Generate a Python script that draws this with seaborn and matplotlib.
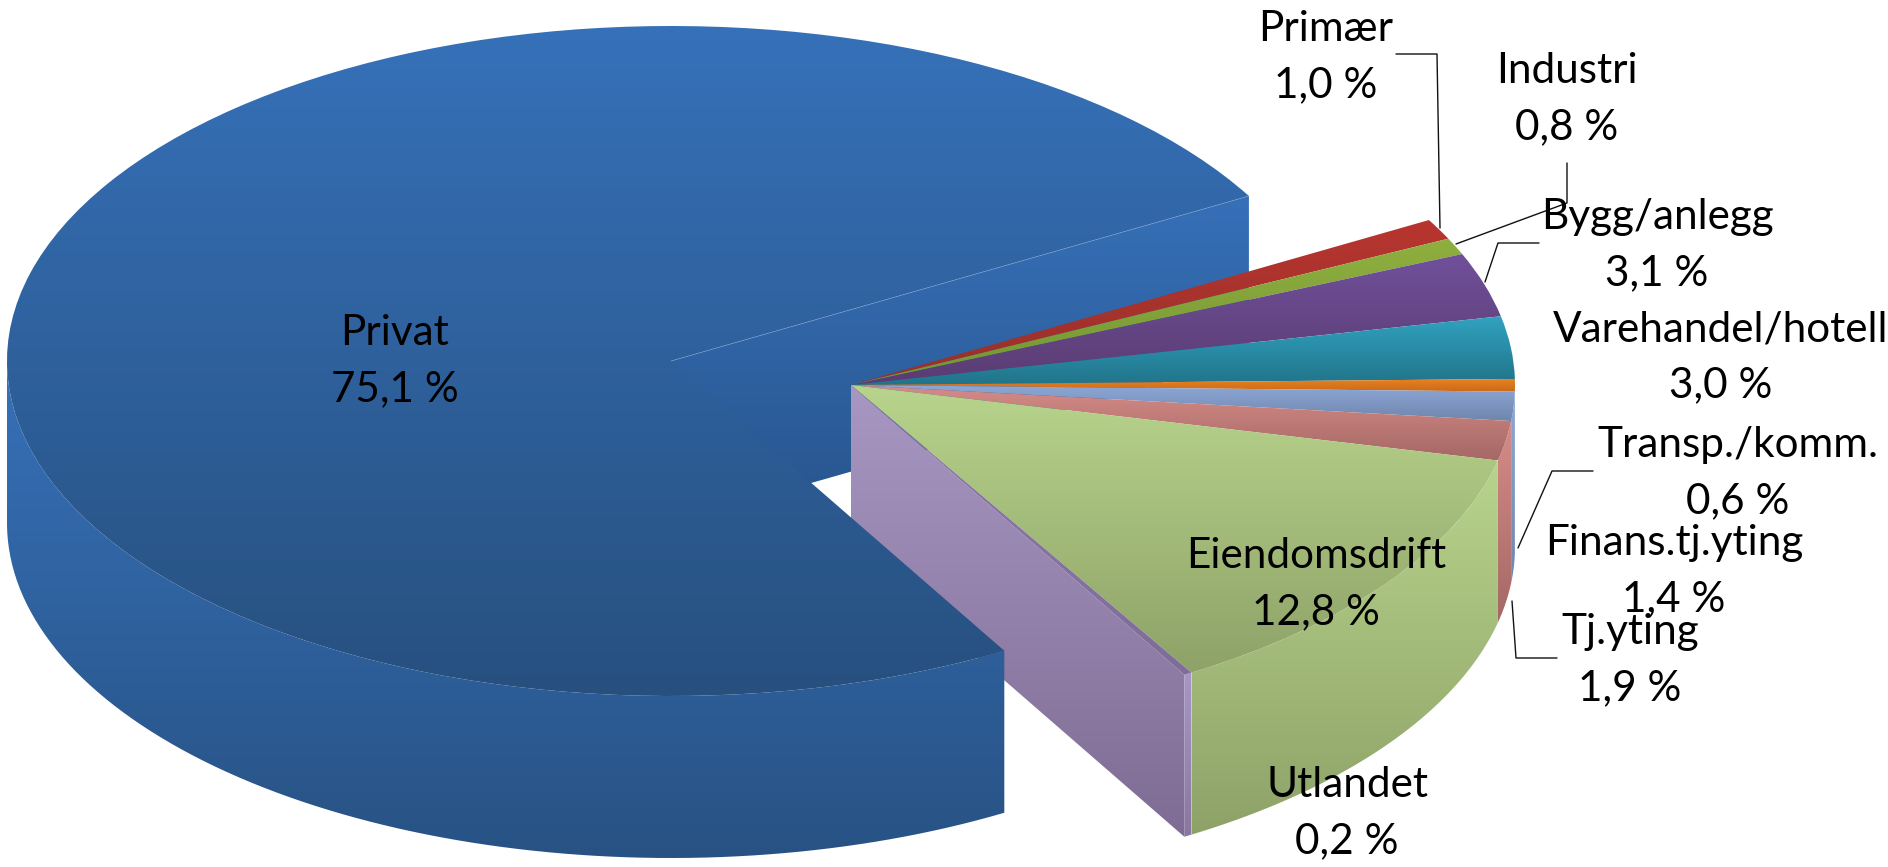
import numpy as np
import matplotlib
matplotlib.use('Agg')
import matplotlib.pyplot as plt
from matplotlib.path import Path
import seaborn as sns

categories = ['Primær', 'Industri', 'Bygg/anlegg', 'Varehandel/hotell', 'Transp./komm.',
              'Finans.tj.yting', 'Tj.yting', 'Eiendomsdrift', 'Utlandet', 'Privat']
shares = [1.0, 0.8, 3.1, 3.0, 0.6, 1.4, 1.9, 12.8, 0.2, 75.1]

# gradient top / bottom per slice
top_colors = ['#b8352f', '#8fb03f', '#70509a', '#31a2c0', '#e8811f',
              '#8ea8d8', '#d68c88', '#b8d48c', '#8d7da8', '#3671b9']
bottom_colors = ['#98302a', '#759434', '#5a3c72', '#217489', '#c96a1b',
                 '#6f86ac', '#a56865', '#8ea268', '#7d6d98', '#27507f']
side_top = ['#b8352f', '#8fb03f', '#70509a', '#31a2c0', '#e8811f',
            '#8ea8d8', '#d68c88', '#b8d48c', '#a797c6', '#3671b9']
side_bottom = ['#98302a', '#759434', '#5a3c72', '#217489', '#c96a1b',
               '#6f86ac', '#a56865', '#8ea268', '#88789f', '#285284']

label_pos = [(1326, 57), (1567, 99), (1657, 245), (1721, 357), (1738, 473),
             (1674, 571), (1630, 660), (1316, 584), (1347, 813), (395, 361)]

WIDTH, HEIGHT = 1888, 867
RX, RY = 664, 335
DEPTH = 162 / RY
CENTER_PRIVAT = (671, 361)
CENTER_REST = (851, 385)


def to_data(px, py):
    return px / RX, (HEIGHT - py) / RY


def fill_gradient(ax, clip, transform, top, bottom, extents, z):
    cmap = sns.blend_palette([top, bottom], 64, as_cmap=True)
    grad = np.linspace(0, 1, 256).reshape(-1, 1)
    im = ax.imshow(grad, cmap=cmap, vmin=0, vmax=1, aspect='auto', interpolation='bilinear',
                   extent=(extents.x0, extents.x1, extents.y0, extents.y1), zorder=z)
    im.set_clip_path(clip, transform)


def arc_points(wedge):
    t = np.radians(np.linspace(wedge.theta1, wedge.theta2, 200))
    t = t[np.sin(t) <= 0]
    return np.column_stack([wedge.center[0] + np.cos(t), wedge.center[1] + np.sin(t)])


def draw_side(ax, wedge, top, bottom, z):
    pts = arc_points(wedge)
    if len(pts) < 2:
        return
    low = pts[::-1] - [0, DEPTH]
    path = Path(np.vstack([pts, low, pts[:1]]), closed=True)
    fill_gradient(ax, path, ax.transData, top, bottom, path.get_extents(), z)


def draw_cut(ax, wedge, angle, top, bottom, z):
    cx, cy = wedge.center
    ex = cx + np.cos(np.radians(angle))
    ey = cy + np.sin(np.radians(angle))
    verts = [(cx, cy), (ex, ey), (ex, ey - DEPTH), (cx, cy - DEPTH), (cx, cy)]
    path = Path(verts, closed=True)
    fill_gradient(ax, path, ax.transData, top, bottom, path.get_extents(), z)


def draw_top(ax, wedge, top, bottom, z):
    path = wedge.get_path()
    fill_gradient(ax, path, ax.transData, top, bottom, path.get_extents(), z)


sns.set_theme(style='white')
plt.rcParams['font.family'] = ['Lato', 'DejaVu Sans']

fig = plt.figure(figsize=(WIDTH / 100, HEIGHT / 100), dpi=100)
ax = fig.add_axes([0, 0, 1, 1])

wedges, _ = ax.pie(shares, startangle=29.5, counterclock=False, radius=1, colors=top_colors)
for w in wedges[:-1]:
    w.set_center(to_data(*CENTER_REST))
wedges[-1].set_center(to_data(*CENTER_PRIVAT))
for w in wedges:
    w.set_visible(False)

privat = wedges[-1]
utlandet = wedges[-2]

# back cut face of the big slice
draw_cut(ax, privat, privat.theta1, '#3670b8', '#28548c', 1)
# cut face of the small slices
draw_cut(ax, utlandet, utlandet.theta1, '#a797c2', '#7f6c94', 2)

for i, w in enumerate(wedges[:-1]):
    draw_side(ax, w, side_top[i], side_bottom[i], 3)
for i, w in enumerate(wedges[:-1]):
    draw_top(ax, w, top_colors[i], bottom_colors[i], 4)

draw_side(ax, privat, side_top[-1], side_bottom[-1], 5)
draw_top(ax, privat, top_colors[-1], bottom_colors[-1], 6)

# thin light edge on the big slice
ex = privat.center[0] + np.cos(np.radians(privat.theta1))
ey = privat.center[1] + np.sin(np.radians(privat.theta1))
ax.plot([privat.center[0], ex], [privat.center[1], ey], color='#7fa4d4', lw=0.5, alpha=0.7, zorder=7)

leaders = [
    [(1396, 54), (1437, 54), (1440, 228)],
    [(1567, 163), (1567, 203), (1456, 244)],
    [(1539, 243), (1498, 243), (1485, 282)],
    [(1593, 471), (1552, 471), (1518, 548)],
    [(1557, 658), (1516, 658), (1512, 601)],
]
for line in leaders:
    xy = np.array([to_data(*p) for p in line])
    ax.plot(xy[:, 0], xy[:, 1], color='#111111', lw=1.0, zorder=8)

for name, val, pos in zip(categories, shares, label_pos):
    x, y = to_data(*pos)
    txt = name + '\n' + f"{val:.1f}".replace('.', ',') + ' %'
    ax.text(x, y, txt, ha='center', va='center', fontsize=30.4, color='black',
            linespacing=1.57, zorder=9)

ax.set_aspect('auto')
ax.set_xlim(0, WIDTH / RX)
ax.set_ylim(0, HEIGHT / RY)
ax.axis('off')

fig.savefig('out.png', dpi=100)
